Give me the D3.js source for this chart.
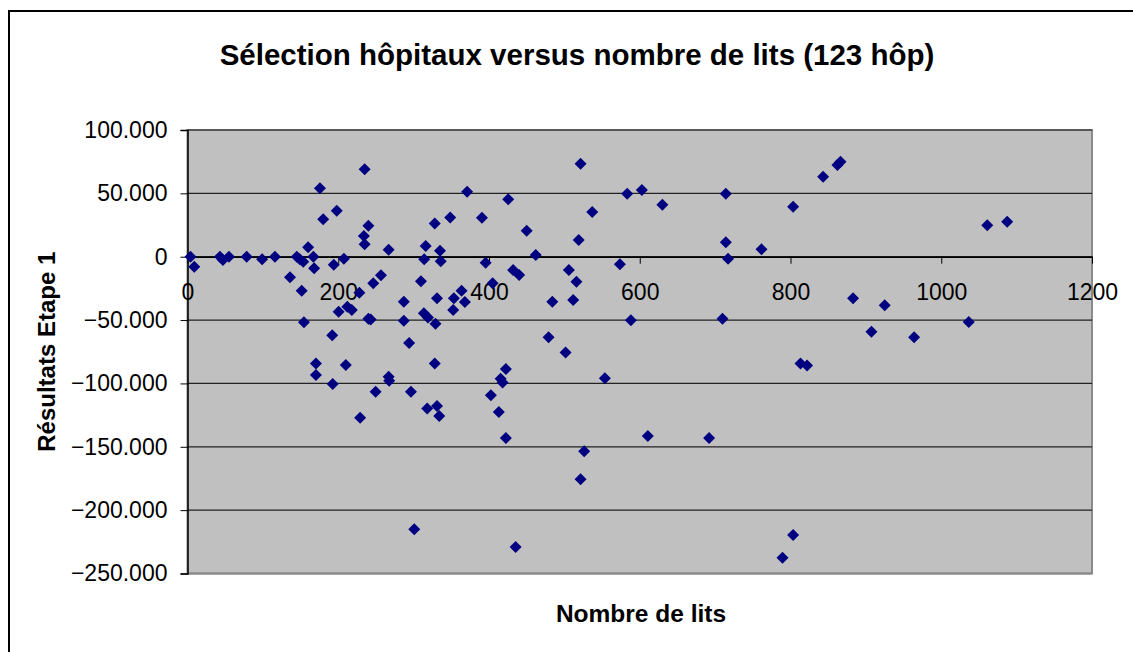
<!DOCTYPE html>
<html>
<head>
<meta charset="utf-8">
<script src="https://cdn.jsdelivr.net/npm/d3@7"></script>
<style>
  body { margin: 0; background: #fff; }
  text { font-family: Arial, "Liberation Sans", sans-serif; }
</style>
</head>
<body>
<div id="chart"></div>
<script>
// nombre de lits par hôpital
const lits = [4, 9, 43, 47, 55, 78.5, 99, 116, 136, 145, 151.5, 149, 153.6, 160, 167, 168, 154.5, 175.7, 180, 198,
  194, 207.5, 228, 200.5, 212, 218, 192, 235, 240, 234, 235, 246.4, 256.6, 266.8, 240, 243, 287, 287, 294, 309.7,
  314, 316, 313.6, 319, 329, 328, 335, 336, 331, 348.5, 353.4, 363.6, 352.5, 368, 371, 170.4, 170.4, 192.6, 210, 229,
  249.6, 266.8, 267.6, 296.4, 300.8, 328, 318, 331, 334, 390.6, 425.5, 450, 462, 395.5, 432, 440, 404.8, 484, 506, 516,
  511.7, 519, 521.5, 537, 479, 501.6, 573.6, 583.3, 602.8, 630, 588.2, 709.8, 714.2, 714.2, 717.2, 761.5, 803.5, 422.4, 415.4, 418,
  402.5, 413, 422.4, 553.7, 526.3, 521.5, 610.7, 692, 435.3, 789.4, 803.5, 843.3, 862.3, 866.3, 1061, 1087.5, 883, 925,
  907.4, 964, 1036.5, 813.3, 822];
// résultats étape 1
const resultats = [0, -7900, 0, -2600, 0, 0, -2000, 0, -16300, 0, -26800, -2000, -3900, 7400, 0, -9200, -51800, 54000, 29500, 36300,
  -6300, -1600, -28400, -43400, -39500, -42000, -62000, 69000, 24500, 16300, 9800, -21000, -14700, 5500, -49000, -49500, -35500, -50500, -68000, -19400,
  -2000, 8400, -44700, -48000, -53000, 26300, 4700, -3600, -32800, 31000, -32800, -26800, -42000, -35800, 51300, -84200, -93400, -100500, -85500, -127000,
  -106600, -94700, -97900, -106600, -215000, -84200, -119700, -117900, -125800, 30800, 45300, 20500, 1300, -4700, -10500, -14400, -21000, -35500, -10500, -19700,
  -34200, 13200, 73400, 35300, -63600, -75500, -6000, 49700, 52600, 41000, -50200, -49000, 49700, 11400, -1600, 5800, 39500, -88700, -96300, -99200,
  -109400, -122600, -143100, -96000, -153600, -175700, -141500, -143100, -229000, -237600, -219700, 63200, 72400, 75000, 24800, 27600, -32800, -38400,
  -59200, -63600, -51600, -84200, -85800];
const xTicks = [0, 200, 400, 600, 800, 1000, 1200];
const yTicks = [100000, 50000, 0, -50000, -100000, -150000, -200000, -250000];

const width = 1133, height = 652;
const plot = { left: 187.5, right: 1092, top: 130, bottom: 573.5 };

const svg = d3.select('#chart').append('svg')
  .attr('width', width)
  .attr('height', height);

// cadre extérieur
svg.append('rect')
  .attr('x', 9).attr('y', 11)
  .attr('width', width + 20).attr('height', height + 20)
  .attr('fill', '#fff').attr('stroke', '#000').attr('stroke-width', 2);

const x = d3.scaleLinear().domain([0, 1200]).range([plot.left, plot.right]);
const y = d3.scaleLinear().domain([-250000, 100000]).range([plot.bottom, plot.top]);

// zone de traçage
svg.append('rect')
  .attr('x', plot.left).attr('y', plot.top)
  .attr('width', plot.right - plot.left).attr('height', plot.bottom - plot.top)
  .attr('fill', '#c0c0c0').attr('stroke', '#8a8a8a').attr('stroke-width', 2);

// grille
svg.append('g').selectAll('line').data(yTicks).join('line')
  .attr('x1', plot.left).attr('x2', plot.right)
  .attr('y1', d => y(d)).attr('y2', d => y(d))
  .attr('stroke', d => d === -250000 ? '#8a8a8a' : '#222')
  .attr('stroke-width', d => d === -250000 ? 2 : 1.2);

// axe Y
const fmt = v => v === 0 ? '0' : d3.format(',.3f')(v / 1000).replace(/,/g, ' ');
const yAxis = svg.append('g')
  .attr('transform', `translate(${plot.left},0)`)
  .call(d3.axisLeft(y).tickValues(yTicks).tickSize(7).tickPadding(13)
    .tickFormat(fmt));
yAxis.select('.domain').attr('stroke', '#000').attr('stroke-width', 1.5);
yAxis.selectAll('text').attr('font-size', 23).attr('fill', '#000');

// axe X (croise à 0)
const xAxis = svg.append('g')
  .attr('transform', `translate(0,${y(0)})`)
  .call(d3.axisBottom(x).tickValues(xTicks).tickSize(7).tickPadding(0).tickSizeOuter(0)
    .tickFormat(d3.format('d')));
xAxis.select('.domain').attr('stroke', '#000').attr('stroke-width', 1.5);
xAxis.selectAll('.tick line').attr('stroke', '#000');
xAxis.selectAll('text').attr('font-size', 23).attr('fill', '#000')
  .attr('dy', null).attr('y', 43);

// points
const data = lits.map((d, i) => ({ lits: d, res: resultats[i] }));
const r = 6;
svg.append('g').selectAll('path').data(data).join('path')
  .attr('d', `M0,${-r}L${r},0L0,${r}L${-r},0Z`)
  .attr('transform', d => `translate(${x(d.lits)},${y(d.res)})`)
  .attr('fill', '#000080');

// titres
svg.append('text')
  .attr('x', 577).attr('y', 65)
  .attr('text-anchor', 'middle')
  .attr('font-size', 29.5).attr('font-weight', 'bold')
  .text('Sélection hôpitaux versus nombre de lits (123 hôp)');

svg.append('text')
  .attr('x', 641).attr('y', 622)
  .attr('text-anchor', 'middle')
  .attr('font-size', 24.5).attr('font-weight', 'bold')
  .text('Nombre de lits');

svg.append('text')
  .attr('transform', `translate(55,${(plot.top + plot.bottom) / 2}) rotate(-90)`)
  .attr('text-anchor', 'middle')
  .attr('font-size', 24).attr('font-weight', 'bold')
  .text('Résultats Etape 1');
</script>
</body>
</html>
